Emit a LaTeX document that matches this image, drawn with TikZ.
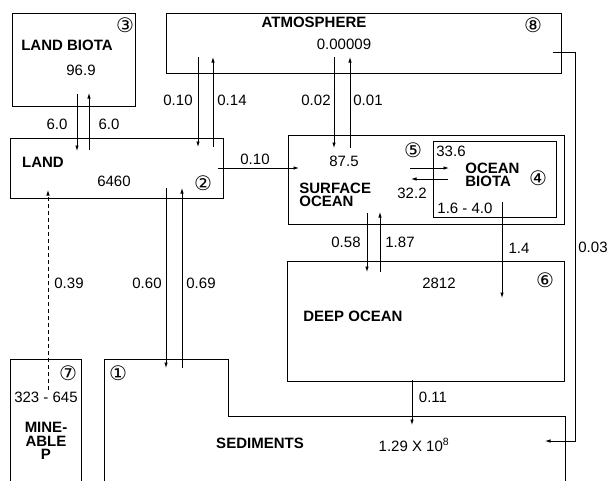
\documentclass[tikz,border=0pt]{standalone}
\usepackage{fontspec}
\setmainfont{Liberation Sans}
\newfontfamily\circfont{DejaVu Sans}
\usetikzlibrary{arrows.meta}
\begin{document}
\begin{tikzpicture}[x=1pt,y=-1pt,
  font=\fontsize{15}{17}\selectfont,
  line width=0.8pt,
  box/.style={draw, inner sep=0pt, outer sep=0pt, anchor=north west},
  lbl/.style={inner sep=0pt},
  boldlbl/.style={inner sep=0pt, font=\fontsize{15}{13.5}\selectfont\bfseries},
  cnum/.style={inner sep=0pt, font=\fontsize{20}{20}\selectfont\circfont},
  arr/.style={-{Latex[length=5.5pt,width=3.5pt]}}]
\useasboundingbox (0,0) rectangle (608,480);

% boxes
\node[box, minimum width=123pt, minimum height=93pt] (lb) at (12,13) {};
\node[box, minimum width=395pt, minimum height=60pt] (atm) at (166,13) {};
\node[box, minimum width=213pt, minimum height=60pt] (land) at (10,138) {};
\node[box, minimum width=276pt, minimum height=89pt] (so) at (288,135) {};
\node[box, minimum width=123pt, minimum height=76pt] (ob) at (433,141) {};
\node[box, minimum width=277pt, minimum height=120pt] (deep) at (287,261) {};
\draw (104,481) -- (104,359) -- (228,359) -- (228,416) -- (565,416) -- (565,481);
\draw (10,481) -- (10,359) -- (81,359) -- (81,481);

% texts
\node[boldlbl] at (67,45) {LAND BIOTA};
\node[lbl] at (81,70) {96.9};
\node[cnum] at (125,25) {③};
\node[boldlbl] at (314,22) {ATMOSPHERE};
\node[lbl] at (344,44) {0.00009};
\node[cnum] at (533,25) {⑧};
\node[boldlbl] at (43,162) {LAND};
\node[lbl] at (114,181) {6460};
\node[cnum] at (203,183) {②};
\node[lbl] at (344,161) {87.5};
\node[boldlbl, anchor=west, align=left] at (299,195) {SURFACE\\OCEAN};
\node[cnum] at (413,150) {⑤};
\node[lbl] at (451,151) {33.6};
\node[boldlbl, anchor=west, align=left] at (465,175) {OCEAN\\BIOTA};
\node[cnum] at (538,178) {④};
\node[lbl] at (412,193) {32.2};
\node[lbl] at (465,208) {1.6 - 4.0};
\node[lbl] at (439,283) {2812};
\node[cnum] at (545,280) {⑥};
\node[boldlbl, anchor=west] at (303,316) {DEEP OCEAN};
\node[cnum] at (118,373) {①};
\node[cnum] at (68,373) {⑦};
\node[lbl] at (46,397) {323 - 645};
\node[boldlbl, align=center] at (46,441) {MINE-\\ABLE\\P};
\node[boldlbl] at (260,443) {SEDIMENTS};
\node[lbl] at (414,445) {1.29 X 10\textsuperscript{8}};

% arrows land biota <-> land
\draw[arr] (77,94) -- (77,151);
\draw[arr] (89,150) -- (89,93);
\node[lbl] at (57,124) {6.0};
\node[lbl] at (109,124) {6.0};
% atmosphere <-> land
\draw[arr] (198,57) -- (198,147);
\draw[arr] (213,147) -- (213,57);
\node[lbl] at (178,100) {0.10};
\node[lbl] at (232,100) {0.14};
% land -> surface ocean
\draw[arr] (218,168) -- (299,168);
\node[lbl] at (255,159) {0.10};
% atmosphere <-> surface ocean
\draw[arr] (334,57) -- (334,148);
\draw[arr] (350,148) -- (350,57);
\node[lbl] at (316,100) {0.02};
\node[lbl] at (368,100) {0.01};
% surface <-> biota
\draw[arr] (410,168) -- (449,168);
\draw[arr] (448,179) -- (411,179);
% biota -> deep
\draw[arr] (502,202) -- (502,298);
\node[lbl] at (519,248) {1.4};
% surface <-> deep
\draw[arr] (367,213) -- (367,272);
\draw[arr] (380,272) -- (380,212);
\node[lbl] at (346,242) {0.58};
\node[lbl] at (400,242) {1.87};
% deep -> sediments
\draw[arr] (412,380) -- (412,425);
\node[lbl] at (433,397) {0.11};
% atmosphere -> sediments
\draw[arr] (553,52) -- (575,52) -- (575,441) -- (545,441);
\node[lbl] at (593,247) {0.03};
% land <-> sediments
\draw[arr] (166,188) -- (166,368);
\draw[arr] (182,368) -- (182,188);
\node[lbl] at (147,283) {0.60};
\node[lbl] at (201,283) {0.69};
% mineable -> land
\draw[arr, dashed, dash pattern=on 4pt off 3pt] (48,390) -- (48,190);
\node[lbl] at (69,283) {0.39};
\end{tikzpicture}
\end{document}
